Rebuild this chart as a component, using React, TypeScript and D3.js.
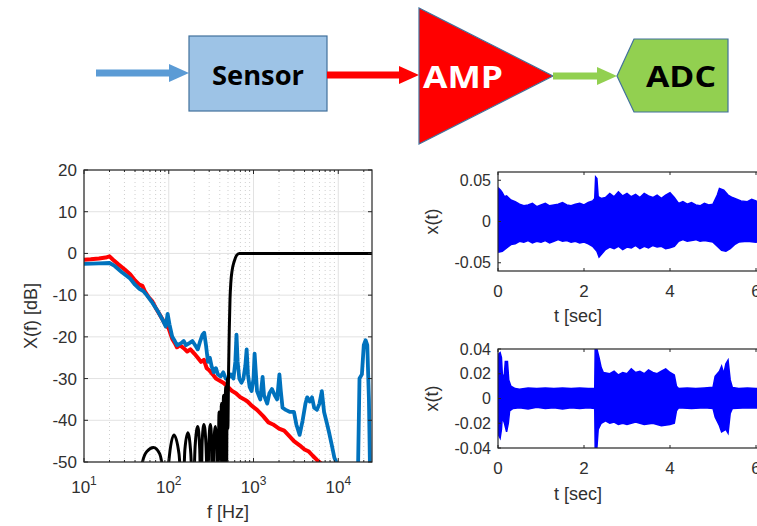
import React from 'react';
import * as d3 from 'd3';

// ---------- data ----------
const redSpectrum: [number, number][] = [
  [10, -1.5], [12, -1.4], [15, -1.2], [18, -1.0], [20, -0.7], [22, -1.5], [25, -2.5], [30, -3.8], [35, -5], [40, -6.5],
  [45, -7.5], [49, -7.8], [52, -9], [58, -10.5], [64, -11.5], [70, -13], [80, -15], [89, -16.7], [95, -17.5], [100, -18],
  [110, -20.5], [118, -21.5], [125, -22.5], [135, -22], [150, -22.7], [165, -23.5], [180, -23], [200, -24], [220, -25],
  [240, -26], [260, -25.5], [280, -27.5], [300, -28], [330, -29], [360, -30], [400, -30.5], [440, -31], [500, -32],
  [560, -33], [620, -33.5], [700, -34.5], [780, -35], [850, -35.5], [950, -36.5], [1100, -37.5], [1300, -39],
  [1500, -40.5], [1700, -41], [2000, -42], [2300, -42.5], [2700, -44], [3000, -45], [3500, -46], [4000, -47],
  [4500, -47.5], [5000, -48.5], [5600, -49.5], [6400, -50.5], [7000, -52]
];

const blueSpectrum: [number, number][] = [
  [10, -2.5], [15, -2.4], [20, -2.3], [23, -3], [28, -4.5], [35, -6], [40, -7.5], [45, -8.5], [50, -9], [55, -10],
  [64, -11.8], [75, -14], [85, -16], [92, -17.5], [97, -14.5], [102, -17], [110, -20], [118, -21], [125, -22],
  [140, -21.5], [150, -21], [160, -22], [175, -21.5], [190, -21], [205, -22], [220, -23], [235, -21], [250, -19.5],
  [262, -19], [275, -22], [290, -26], [305, -25], [320, -27], [340, -28.5], [360, -27.5], [380, -29], [410, -29.5],
  [440, -28.5], [470, -30], [500, -30], [540, -29], [580, -30], [610, -26], [630, -19.5], [650, -26], [680, -30],
  [720, -31], [760, -30], [800, -27], [830, -23], [860, -29], [900, -32], [950, -33], [1000, -30], [1030, -24],
  [1060, -28], [1100, -33], [1200, -35], [1280, -29.6], [1330, -34], [1450, -36], [1540, -33.5], [1650, -32.5],
  [1780, -34], [1900, -35], [2020, -29], [2100, -33], [2200, -37], [2400, -37.5], [2700, -38], [3000, -38],
  [3200, -41], [3500, -43.5], [3800, -40], [4100, -36], [4300, -34.5], [4600, -35.5], [4900, -34.5], [5200, -37],
  [5600, -37.5], [6000, -36], [6400, -33], [6800, -38], [7400, -41], [7800, -43], [8400, -46], [9000, -49],
  [9700, -50.5], [11000, -50.5], [12000, -55], [17000, -55], [17800, -30], [19000, -29], [20000, -22],
  [21000, -20.8], [22000, -22], [23000, -35], [23800, -55]
];

const filterResponse: [number, number][] = [
  [45, -60], [49, -50], [55, -47.5], [66, -46.5], [78, -48], [88, -55], [92, -60], [100, -50], [115, -43.5],
  [132, -48], [146, -60], [155, -47], [168, -43], [182, -48], [193, -60], [205, -46], [220, -41.5], [232, -47],
  [240, -60], [248, -45], [260, -41], [275, -46], [290, -60], [298, -45], [310, -41], [320, -45], [330, -60],
  [340, -46], [355, -41.5], [368, -47], [380, -60], [392, -38], [405, -60], [418, -36], [430, -60], [442, -34],
  [455, -60], [468, -32], [480, -55], [490, -30], [498, -42], [508, -28], [518, -18], [528, -11], [540, -7],
  [560, -4], [590, -2], [630, -0.5], [680, 0], [25000, 0]
];

const topUpper: [number, number][] = [
  [0, 0.028], [0.02, 0.04], [0.06, 0.038], [0.1, 0.035], [0.15, 0.03], [0.2, 0.031], [0.3, 0.026], [0.4, 0.024],
  [0.5, 0.021], [0.6, 0.019], [0.7, 0.02], [0.8, 0.022], [0.9, 0.018], [1.0, 0.02], [1.1, 0.022], [1.2, 0.019],
  [1.3, 0.02], [1.4, 0.021], [1.5, 0.023], [1.6, 0.02], [1.7, 0.019], [1.8, 0.021], [1.9, 0.022], [2.0, 0.02],
  [2.1, 0.023], [2.2, 0.025], [2.25, 0.028], [2.27, 0.054], [2.3, 0.052], [2.33, 0.03], [2.4, 0.028], [2.5, 0.029],
  [2.6, 0.034], [2.7, 0.03], [2.8, 0.036], [2.9, 0.031], [3.0, 0.034], [3.1, 0.03], [3.2, 0.033], [3.3, 0.029],
  [3.4, 0.034], [3.5, 0.031], [3.6, 0.029], [3.7, 0.032], [3.8, 0.028], [3.9, 0.032], [4.0, 0.035], [4.1, 0.029],
  [4.2, 0.022], [4.3, 0.024], [4.4, 0.021], [4.5, 0.023], [4.6, 0.02], [4.7, 0.019], [4.8, 0.022], [4.9, 0.02],
  [5.0, 0.021], [5.1, 0.032], [5.15, 0.04], [5.25, 0.038], [5.35, 0.032], [5.45, 0.029], [5.55, 0.027],
  [5.65, 0.025], [5.8, 0.024], [5.9, 0.027], [6.0, 0.025], [6.2, 0.022], [6.5, 0.021]
];

const topLower: [number, number][] = [
  [0, -0.025], [0.02, -0.037], [0.1, -0.036], [0.2, -0.032], [0.3, -0.028], [0.4, -0.027], [0.5, -0.024],
  [0.6, -0.025], [0.7, -0.023], [0.8, -0.026], [0.9, -0.024], [1.0, -0.025], [1.1, -0.023], [1.2, -0.026],
  [1.3, -0.024], [1.4, -0.022], [1.5, -0.024], [1.6, -0.023], [1.7, -0.025], [1.8, -0.024], [1.9, -0.026],
  [2.0, -0.025], [2.1, -0.027], [2.2, -0.03], [2.3, -0.036], [2.35, -0.043], [2.4, -0.04], [2.5, -0.034],
  [2.6, -0.031], [2.7, -0.033], [2.8, -0.03], [2.9, -0.034], [3.0, -0.031], [3.1, -0.032], [3.2, -0.029],
  [3.3, -0.033], [3.4, -0.03], [3.5, -0.032], [3.6, -0.029], [3.7, -0.031], [3.8, -0.03], [3.9, -0.033],
  [4.0, -0.032], [4.1, -0.03], [4.2, -0.024], [4.3, -0.022], [4.4, -0.024], [4.5, -0.023], [4.6, -0.022],
  [4.7, -0.024], [4.8, -0.023], [4.9, -0.024], [5.0, -0.025], [5.1, -0.03], [5.2, -0.035], [5.3, -0.036],
  [5.4, -0.033], [5.5, -0.028], [5.6, -0.025], [5.8, -0.024], [6.0, -0.025], [6.2, -0.023], [6.5, -0.024]
];

const bottomUpper: [number, number][] = [
  [0, 0.012], [0.02, 0.036], [0.05, 0.037], [0.08, 0.033], [0.1, 0.02], [0.14, 0.016], [0.17, 0.03], [0.22, 0.03],
  [0.25, 0.015], [0.3, 0.01], [0.4, 0.008], [0.5, 0.0075], [0.7, 0.0085], [0.9, 0.008], [1.1, 0.0085], [1.3, 0.008],
  [1.5, 0.0085], [1.7, 0.008], [1.9, 0.0085], [2.1, 0.008], [2.25, 0.008], [2.26, 0.04], [2.3, 0.04], [2.35, 0.033],
  [2.4, 0.025], [2.45, 0.021], [2.6, 0.02], [2.7, 0.022], [2.8, 0.019], [2.9, 0.021], [3.0, 0.02], [3.1, 0.024],
  [3.2, 0.021], [3.3, 0.022], [3.4, 0.02], [3.5, 0.023], [3.6, 0.021], [3.7, 0.02], [3.8, 0.022], [3.9, 0.024],
  [4.0, 0.021], [4.1, 0.019], [4.15, 0.01], [4.2, 0.008], [4.4, 0.0085], [4.6, 0.008], [4.8, 0.0085], [5.0, 0.009],
  [5.05, 0.018], [5.15, 0.022], [5.2, 0.026], [5.25, 0.02], [5.3, 0.028], [5.35, 0.031], [5.4, 0.015], [5.45, 0.009],
  [5.6, 0.008], [5.8, 0.0085], [6.0, 0.008], [6.5, 0.008]
];

const bottomLower: [number, number][] = [
  [0, -0.01], [0.02, -0.03], [0.05, -0.032], [0.08, -0.025], [0.1, -0.015], [0.15, -0.02], [0.2, -0.027],
  [0.24, -0.02], [0.27, -0.01], [0.35, -0.008], [0.5, -0.0075], [0.7, -0.0085], [0.9, -0.007], [1.1, -0.008],
  [1.3, -0.0075], [1.5, -0.0085], [1.7, -0.0075], [1.9, -0.008], [2.1, -0.0075], [2.25, -0.008], [2.26, -0.04],
  [2.3, -0.04], [2.33, -0.025], [2.4, -0.02], [2.5, -0.018], [2.6, -0.02], [2.7, -0.019], [2.8, -0.021],
  [2.9, -0.02], [3.0, -0.021], [3.2, -0.019], [3.4, -0.021], [3.6, -0.02], [3.8, -0.022], [4.0, -0.021],
  [4.1, -0.02], [4.15, -0.01], [4.2, -0.0075], [4.5, -0.008], [4.8, -0.0075], [5.0, -0.008], [5.05, -0.015],
  [5.15, -0.022], [5.2, -0.027], [5.3, -0.025], [5.35, -0.028], [5.4, -0.012], [5.45, -0.008], [5.8, -0.0075],
  [6.5, -0.008]
];

const specYTicks = [20, 10, 0, -10, -20, -30, -40, -50];
const specXTicks = [10, 100, 1000, 10000];
const specXExps = ['1', '2', '3', '4'];
const timeXTicks = [0, 2, 4, 6];
const topYTicks = [0.05, 0, -0.05];
const topYLabels = ['0.05', '0', '-0.05'];
const bottomYTicks = [0.04, 0.02, 0, -0.02, -0.04];
const bottomYLabels = ['0.04', '0.02', '0', '-0.02', '-0.04'];

const FONT = '"Liberation Sans", Arial, sans-serif';
const TXT = '#303030';

function Spectrum() {
  const x = d3.scaleLog().domain([10, 25000]).range([84, 372]);
  const y = d3.scaleLinear().domain([-50, 20]).range([462, 170]);
  const line = d3.line<[number, number]>().x(d => x(d[0])).y(d => y(d[1]));
  const blackLine = d3.line<[number, number]>().x(d => x(d[0])).y(d => y(d[1])).curve(d3.curveMonotoneX);
  const [x0, x1] = x.range();
  const [y0, y1] = y.range();
  const minor: number[] = [];
  for (const dec of [10, 100, 1000, 10000]) for (let k = 2; k <= 9; k++) if (dec * k <= 25000) minor.push(dec * k);
  return (
    <g>
      <defs>
        <clipPath id="specClip"><rect x={x0} y={y1} width={x1 - x0} height={y0 - y1} /></clipPath>
      </defs>
      <rect x={x0} y={y1} width={x1 - x0} height={y0 - y1} fill="#fff" />
      {minor.map(f => (
        <line key={'m' + f} x1={x(f)} x2={x(f)} y1={y1} y2={y0} stroke="#cfcfcf" strokeWidth={1} strokeDasharray="1,3" />
      ))}
      {specXTicks.map(f => (
        <line key={'g' + f} x1={x(f)} x2={x(f)} y1={y1} y2={y0} stroke="#e2e2e2" strokeWidth={1} />
      ))}
      {specYTicks.map(v => (
        <line key={'h' + v} x1={x0} x2={x1} y1={y(v)} y2={y(v)} stroke="#e2e2e2" strokeWidth={1} />
      ))}
      <g clipPath="url(#specClip)">
        <path d={line(redSpectrum) || ''} fill="none" stroke="#ff0000" strokeWidth={4} strokeLinejoin="round" />
        <path d={line(blueSpectrum) || ''} fill="none" stroke="#0072bd" strokeWidth={3.8} strokeLinejoin="round" />
        <path d={blackLine(filterResponse) || ''} fill="none" stroke="#000" strokeWidth={3} strokeLinejoin="round" />
      </g>
      {specXTicks.map(f => (
        <g key={'t' + f}>
          <line x1={x(f)} x2={x(f)} y1={y0} y2={y0 - 4} stroke="#262626" />
          <line x1={x(f)} x2={x(f)} y1={y1} y2={y1 + 4} stroke="#262626" />
        </g>
      ))}
      {minor.map(f => (
        <g key={'mt' + f}>
          <line x1={x(f)} x2={x(f)} y1={y0} y2={y0 - 2} stroke="#262626" />
          <line x1={x(f)} x2={x(f)} y1={y1} y2={y1 + 2} stroke="#262626" />
        </g>
      ))}
      {specYTicks.map(v => (
        <g key={'yt' + v}>
          <line x1={x0} x2={x0 + 4} y1={y(v)} y2={y(v)} stroke="#262626" />
          <line x1={x1} x2={x1 - 4} y1={y(v)} y2={y(v)} stroke="#262626" />
        </g>
      ))}
      <rect x={x0} y={y1} width={x1 - x0} height={y0 - y1} fill="none" stroke="#262626" strokeWidth={1.2} />
      {specYTicks.map(v => (
        <text key={'yl' + v} x={x0 - 7} y={y(v)} dy="0.35em" textAnchor="end" fontSize={17} fill={TXT} fontFamily={FONT}>{v}</text>
      ))}
      {specXTicks.map((f, i) => (
        <text key={'xl' + f} x={x(f)} y={493} textAnchor="middle" fontSize={17} fill={TXT} fontFamily={FONT}>
          10<tspan fontSize={12} dy={-8}>{specXExps[i]}</tspan>
        </text>
      ))}
      <text x={(x0 + x1) / 2} y={518} textAnchor="middle" fontSize={18} fill={TXT} fontFamily={FONT}>f [Hz]</text>
      <text transform={`translate(37,${(y0 + y1) / 2}) rotate(-90)`} textAnchor="middle" fontSize={18} fill={TXT} fontFamily={FONT}>X(f) [dB]</text>
    </g>
  );
}

function TimePlot(props: {
  id: string; top: number; bottom: number; ylim: number; upper: [number, number][]; lower: [number, number][];
  yTicks: number[]; yLabels: string[]; tickBase: number; labelBase: number;
}) {
  const { id, top, bottom, ylim, upper, lower, yTicks, yLabels, tickBase, labelBase } = props;
  const x = d3.scaleLinear().domain([0, 6.5]).range([498, 777.5]);
  const y = d3.scaleLinear().domain([-ylim, ylim]).range([bottom, top]);
  const pts: [number, number][] = [
    ...upper.map(p => [x(p[0]), y(p[1])] as [number, number]),
    ...lower.slice().reverse().map(p => [x(p[0]), y(p[1])] as [number, number])
  ];
  const path = (d3.line()(pts) || '') + 'Z';
  const [x0, x1] = x.range();
  return (
    <g>
      <defs>
        <clipPath id={id}><rect x={x0} y={top} width={x1 - x0} height={bottom - top} /></clipPath>
      </defs>
      <rect x={x0} y={top} width={x1 - x0} height={bottom - top} fill="#fff" />
      <g clipPath={`url(#${id})`}>
        <path d={path} fill="#0000ff" stroke="#0000ff" strokeWidth={1.5} strokeLinejoin="miter" />
      </g>
      {timeXTicks.map(t => (
        <g key={'xt' + t}>
          <line x1={x(t)} x2={x(t)} y1={bottom} y2={bottom - 3} stroke="#262626" />
          <line x1={x(t)} x2={x(t)} y1={top} y2={top + 3} stroke="#262626" />
        </g>
      ))}
      {yTicks.map(v => (
        <line key={'yt' + v} x1={x0} x2={x0 + 3} y1={y(v)} y2={y(v)} stroke="#262626" />
      ))}
      <rect x={x0} y={top} width={x1 - x0} height={bottom - top} fill="none" stroke="#262626" strokeWidth={1.2} />
      {yTicks.map((v, i) => (
        <text key={'yl' + v} x={x0 - 7} y={y(v)} dy="0.35em" textAnchor="end" fontSize={16} fill={TXT} fontFamily={FONT}>{yLabels[i]}</text>
      ))}
      {timeXTicks.map(t => (
        <text key={'xl' + t} x={x(t)} y={tickBase} textAnchor="middle" fontSize={17} fill={TXT} fontFamily={FONT}>{t}</text>
      ))}
      <text x={578} y={labelBase} textAnchor="middle" fontSize={18} fill={TXT} fontFamily={FONT}>t [sec]</text>
      <text transform={`translate(438,${(top + bottom) / 2}) rotate(-90)`} textAnchor="middle" fontSize={18} fill={TXT} fontFamily={FONT}>x(t)</text>
    </g>
  );
}

function Arrow(props: { x0: number; x1: number; y: number; color: string; headLen: number }) {
  const { x0, x1, y, color, headLen } = props;
  const shaft = 3.5;
  const head = 9;
  return (
    <g>
      <rect x={x0} y={y - shaft} width={x1 - headLen - x0 + 1} height={shaft * 2} fill={color} />
      <polygon points={`${x1 - headLen},${y - head} ${x1},${y} ${x1 - headLen},${y + head}`} fill={color} />
    </g>
  );
}

function Diagram() {
  const dfont = '"Open Sans", "Liberation Sans", Arial, sans-serif';
  return (
    <g>
      <Arrow x0={96} x1={189} y={73} color="#5b9bd5" headLen={20} />
      <rect x={189} y={36} width={138} height={75} fill="#9dc3e6" stroke="#41719c" strokeWidth={1.2} />
      <text x={258} y={85} textAnchor="middle" fontSize={26} fontWeight="bold" fill="#000" fontFamily={dfont} textLength={92} lengthAdjust="spacingAndGlyphs">Sensor</text>
      <Arrow x0={327} x1={419} y={75} color="#ff0000" headLen={20} />
      <polygon points="419,8 419,144 553,76" fill="#ff0000" stroke="#41719c" strokeWidth={1.2} />
      <text x={463} y={88} textAnchor="middle" fontSize={31} fontWeight="bold" fill="#fff" fontFamily={dfont} textLength={80} lengthAdjust="spacingAndGlyphs">AMP</text>
      <Arrow x0={553} x1={617} y={76} color="#92d050" headLen={20} />
      <polygon points="617,76 634,39 728,39 728,112 634,112" fill="#92d050" stroke="#41719c" strokeWidth={1.2} />
      <text x={681} y={87} textAnchor="middle" fontSize={29} fontWeight="bold" fill="#000" fontFamily={dfont} textLength={70} lengthAdjust="spacingAndGlyphs">ADC</text>
    </g>
  );
}

export default function App() {
  return (
    <svg width={757} height={526} style={{ position: 'absolute', left: 0, top: 0, background: '#fff' }}>
      <rect x={0} y={0} width={757} height={526} fill="#fff" />
      <Diagram />
      <Spectrum />
      <TimePlot id="clipTop" top={172} bottom={271} ylim={0.06} upper={topUpper} lower={topLower}
        yTicks={topYTicks} yLabels={topYLabels} tickBase={297} labelBase={322} />
      <TimePlot id="clipBot" top={349} bottom={448} ylim={0.04} upper={bottomUpper} lower={bottomLower}
        yTicks={bottomYTicks} yLabels={bottomYLabels} tickBase={474} labelBase={500} />
    </svg>
  );
}
